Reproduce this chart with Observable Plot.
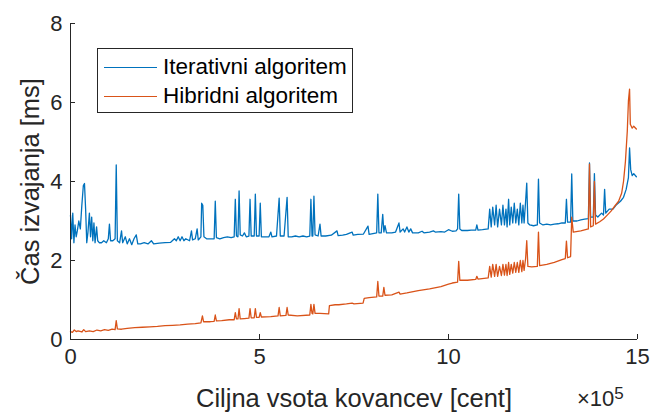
<!DOCTYPE html>
<html>
<head>
<meta charset="utf-8">
<script src="https://cdn.jsdelivr.net/npm/d3@7"></script>
<script src="https://cdn.jsdelivr.net/npm/@observablehq/plot@0.6"></script>
<style>
  html, body { margin: 0; padding: 0; background: #fff; }
  #wrap { position: relative; width: 651px; height: 412px; overflow: hidden; font-family: "Liberation Sans", Arial, Helvetica, sans-serif; }
  #wrap svg { position: absolute; left: 0; top: 0; }
  g[aria-label="x-axis label"] text, g[aria-label="y-axis label"] text { font-size: 25.5px; }
  .legend { position: absolute; left: 97px; top: 48px; width: 256px; height: 65px; border: 1px solid #262626; background: #fff; box-sizing: border-box; }
  .legend .row { position: absolute; left: 0; height: 28px; display: flex; align-items: center; font-size: 22.5px; color: #000; white-space: nowrap; }
  .legend .sw { width: 53px; height: 0; border-top: 1.3px solid; margin-left: 6px; margin-right: 6px; }
  .expo { position: absolute; left: 577px; top: 388px; font-size: 22px; line-height: 1; color: #262626; white-space: nowrap; }
  .expo sup { font-size: 17px; position: relative; top: -3px; vertical-align: top; }
</style>
</head>
<body>
<div id="wrap"></div>
<script>
// x in units of 10^5 cent, y in ms
const seriesNames = ["Iterativni algoritem", "Hibridni algoritem"];
const seriesColors = ["#0072BD", "#D95319"];
const xTicks = [0, 5, 10, 15];
const yTicks = [0, 2, 4, 6, 8];
const xLabel = "Ciljna vsota kovancev [cent]";
const yLabel = "Čas izvajanja [ms]";

const iterX = [0.00,0.03,0.06,0.09,0.12,0.15,0.18,0.22,0.26,0.30,0.34,0.37,0.40,0.43,0.46,0.50,0.53,0.56,0.59,0.62,0.65,0.69,0.72,0.76,0.82,0.88,0.95,1.00,1.03,1.06,1.12,1.18,1.21,1.24,1.30,1.35,1.38,1.45,1.50,1.56,1.62,1.68,1.74,1.78,1.85,1.95,2.05,2.14,2.20,2.35,2.50,2.65,2.75,2.80,2.85,2.90,2.95,3.00,3.05,3.15,3.20,3.23,3.30,3.35,3.38,3.45,3.47,3.50,3.53,3.60,3.70,3.80,3.83,3.86,3.95,4.05,4.15,4.25,4.33,4.36,4.39,4.43,4.46,4.49,4.55,4.60,4.65,4.72,4.75,4.78,4.86,4.89,4.92,4.99,5.02,5.05,5.15,5.25,5.30,5.33,5.45,5.52,5.55,5.65,5.73,5.76,5.85,5.95,6.05,6.15,6.25,6.33,6.36,6.39,6.41,6.44,6.47,6.55,6.60,6.63,6.75,6.90,7.05,7.08,7.20,7.30,7.45,7.48,7.60,7.75,7.87,7.90,8.00,8.10,8.13,8.16,8.22,8.26,8.29,8.32,8.36,8.50,8.60,8.69,8.72,8.80,8.84,8.90,8.95,9.00,9.05,9.20,9.30,9.35,9.50,9.60,9.65,9.80,9.90,10.00,10.10,10.20,10.24,10.27,10.30,10.35,10.50,10.60,10.72,10.75,10.78,10.90,11.05,11.09,11.13,11.17,11.22,11.26,11.30,11.35,11.40,11.44,11.48,11.52,11.55,11.59,11.62,11.66,11.70,11.74,11.78,11.82,11.86,11.90,11.94,11.97,12.00,12.04,12.07,12.10,12.15,12.25,12.35,12.38,12.41,12.50,12.60,12.70,12.80,12.90,13.00,13.09,13.12,13.15,13.23,13.26,13.29,13.40,13.50,13.60,13.70,13.73,13.76,13.83,13.86,13.89,13.95,14.05,14.10,14.13,14.16,14.25,14.35,14.45,14.55,14.63,14.70,14.76,14.79,14.82,14.86,14.90,14.97];
const iterY = [3.15,2.55,3.20,2.45,2.90,2.60,2.75,3.00,2.80,3.40,3.90,3.95,3.30,2.45,2.70,3.20,2.60,3.10,2.50,2.95,2.45,2.85,2.50,2.45,2.45,2.50,2.45,2.55,2.92,2.50,2.50,2.55,4.42,2.50,2.45,2.75,2.45,2.60,2.42,2.55,2.40,2.55,2.65,2.42,2.42,2.45,2.42,2.50,2.42,2.44,2.45,2.46,2.55,2.50,2.60,2.50,2.60,2.50,2.55,2.50,2.75,2.52,2.55,2.80,2.52,2.60,3.45,3.40,2.60,2.55,2.55,2.55,3.50,2.58,2.55,2.58,2.60,2.58,2.60,3.55,2.62,2.60,3.76,2.65,2.62,2.70,2.60,2.62,3.55,2.62,2.62,3.68,2.62,2.62,3.45,2.60,2.60,2.60,2.72,2.60,2.62,3.58,2.62,2.62,3.60,2.60,2.60,2.62,2.60,2.62,2.60,2.62,3.55,2.62,2.62,3.63,2.65,2.62,2.92,2.62,2.62,2.64,2.75,2.63,2.64,2.66,2.72,2.64,2.66,2.67,2.87,2.66,2.68,2.70,3.68,2.70,2.70,3.17,2.72,2.88,2.70,2.70,2.72,2.95,2.72,2.80,2.72,2.85,2.72,2.80,2.70,2.70,2.74,2.70,2.72,2.75,2.72,2.73,2.72,2.78,2.74,2.75,2.80,3.68,2.80,2.76,2.76,2.77,2.77,2.90,2.77,2.78,2.80,3.30,2.85,3.35,2.90,3.40,2.85,3.30,2.90,3.40,2.90,3.30,2.85,3.55,2.90,3.35,2.95,3.45,2.95,3.30,2.90,3.45,2.95,3.40,2.95,3.50,3.96,2.95,2.90,2.88,2.90,4.06,2.95,2.90,2.92,2.90,2.92,2.93,2.95,2.95,3.55,2.97,2.97,4.19,3.00,3.00,3.03,3.05,3.06,4.47,3.10,3.10,4.20,3.15,3.10,3.20,3.15,3.80,3.20,3.30,3.30,3.42,3.50,3.60,3.80,4.10,4.85,4.30,4.15,4.20,4.12];

const hybX = [0.00,0.05,0.10,0.15,0.20,0.30,0.35,0.40,0.50,0.60,0.70,0.80,0.90,1.00,1.10,1.18,1.21,1.24,1.35,1.50,1.70,1.90,2.10,2.30,2.50,2.70,2.90,3.10,3.30,3.45,3.49,3.52,3.70,3.80,3.83,3.86,4.00,4.20,4.33,4.36,4.39,4.43,4.46,4.49,4.60,4.72,4.75,4.78,4.86,4.89,4.92,4.99,5.02,5.05,5.30,5.49,5.52,5.55,5.70,5.73,5.76,6.00,6.33,6.36,6.39,6.41,6.44,6.47,6.60,6.83,6.85,7.00,7.10,7.30,7.45,7.50,7.74,7.77,7.90,8.10,8.13,8.16,8.26,8.29,8.32,8.50,8.69,8.72,8.90,9.00,9.20,9.50,9.80,10.00,10.10,10.24,10.27,10.30,10.50,10.72,10.75,10.78,11.05,11.09,11.13,11.17,11.22,11.26,11.30,11.35,11.40,11.44,11.48,11.52,11.55,11.59,11.62,11.66,11.70,11.74,11.78,11.82,11.86,11.90,11.94,11.97,12.00,12.04,12.07,12.10,12.20,12.35,12.38,12.41,12.60,12.80,13.00,13.09,13.12,13.15,13.23,13.26,13.30,13.50,13.70,13.73,13.76,13.83,13.86,13.89,14.00,14.10,14.20,14.30,14.40,14.50,14.58,14.63,14.68,14.73,14.76,14.79,14.81,14.86,14.90,14.97];
const hybY = [0.20,0.18,0.24,0.20,0.22,0.19,0.25,0.20,0.22,0.20,0.24,0.22,0.25,0.23,0.26,0.25,0.48,0.27,0.26,0.28,0.30,0.31,0.32,0.33,0.35,0.36,0.37,0.39,0.40,0.42,0.60,0.45,0.45,0.46,0.62,0.47,0.48,0.50,0.50,0.68,0.52,0.52,0.78,0.52,0.53,0.54,0.78,0.55,0.55,0.78,0.56,0.56,0.68,0.57,0.58,0.60,0.81,0.60,0.61,0.81,0.62,0.60,0.62,0.89,0.66,0.65,0.89,0.66,0.66,0.65,0.86,0.88,0.88,0.90,0.92,0.90,0.92,1.04,1.06,1.08,1.47,1.10,1.10,1.32,1.12,1.13,1.20,1.15,1.18,1.20,1.24,1.28,1.34,1.40,1.43,1.45,1.98,1.50,1.50,1.52,1.60,1.53,1.56,1.85,1.58,1.90,1.60,1.90,1.60,1.85,1.62,1.90,1.63,1.90,1.62,1.95,1.65,1.90,1.68,1.95,1.70,1.95,1.70,2.00,1.72,2.00,1.75,2.05,2.50,1.85,1.84,1.85,2.72,1.87,1.90,1.95,2.02,2.05,2.49,2.07,2.10,3.10,2.72,2.75,2.80,4.44,2.85,2.88,4.00,2.92,2.98,3.05,3.15,3.25,3.38,3.50,3.70,4.00,4.50,5.28,6.04,6.34,5.45,5.35,5.40,5.33];

const data = [
  ...iterX.map((x, i) => ({x, y: iterY[i], s: seriesNames[0]})),
  ...hybX.map((x, i) => ({x, y: hybY[i], s: seriesNames[1]}))
];

const axisColor = "#262626";
const chart = Plot.plot({
  width: 651,
  height: 412,
  marginLeft: 70,
  marginRight: 14,
  marginTop: 23,
  marginBottom: 73,
  style: {fontFamily: '"Liberation Sans", Arial, Helvetica, sans-serif', background: "transparent", color: axisColor},
  x: {domain: [0, 15]},
  y: {domain: [0, 8]},
  color: {domain: seriesNames, range: seriesColors},
  marks: [
    Plot.axisX({ticks: xTicks, tickFormat: d => String(d), tickSize: -5, tickPadding: 14, fontSize: 22, stroke: axisColor, fill: axisColor,
      label: xLabel, labelAnchor: "center", labelArrow: "none", labelOffset: 67}),
    Plot.axisY({ticks: yTicks, tickFormat: d => String(d), tickSize: -5, tickPadding: 13, fontSize: 22, stroke: axisColor, fill: axisColor,
      label: yLabel, labelAnchor: "center", labelArrow: "none", labelOffset: 50}),
    Plot.line(data.filter(d => d.s === seriesNames[0]), {x: "x", y: "y", stroke: "s", strokeWidth: 1.3}),
    Plot.line(data.filter(d => d.s === seriesNames[1]), {x: "x", y: "y", stroke: "s", strokeWidth: 1.3}),
    Plot.ruleX([0], {stroke: axisColor, strokeWidth: 1}),
    Plot.ruleY([0], {stroke: axisColor, strokeWidth: 1})
  ]
});

const wrap = document.getElementById("wrap");
wrap.appendChild(chart);

// legend
const legend = document.createElement("div");
legend.className = "legend";
seriesNames.forEach((name, i) => {
  const row = document.createElement("div");
  row.className = "row";
  row.style.top = (i === 0 ? 4 : 33) + "px";
  const sw = document.createElement("span");
  sw.className = "sw";
  sw.style.borderTopColor = seriesColors[i];
  const t = document.createElement("span");
  t.textContent = name;
  row.appendChild(sw);
  row.appendChild(t);
  legend.appendChild(row);
});
wrap.appendChild(legend);

// exponent
const expo = document.createElement("div");
expo.className = "expo";
expo.innerHTML = "×10<sup>5</sup>";
wrap.appendChild(expo);
</script>
</body>
</html>
